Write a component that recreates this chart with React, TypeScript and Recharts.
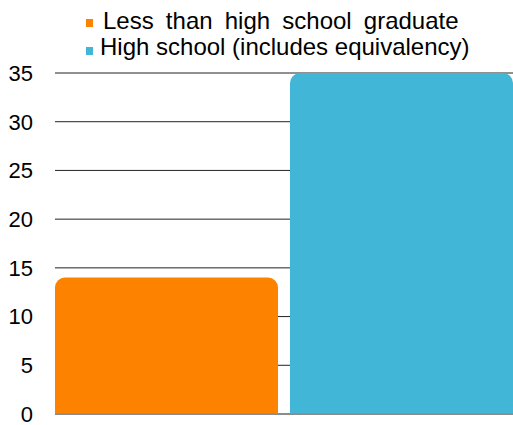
import React from 'react';
import { BarChart, Bar, XAxis, YAxis, CartesianGrid, Legend } from 'recharts';

const categories = ['Educational attainment'];
const lessThanHighSchool = [14];
const highSchool = [35];
const yTicks = [0, 5, 10, 15, 20, 25, 30, 35];
const seriesNames = ['Less than high school graduate', 'High school (includes equivalency)'];
const seriesColors = ['#FD8200', '#41B6D6'];

const data = categories.map((c, i) => ({
  name: c,
  less: lessThanHighSchool[i],
  hs: highSchool[i],
}));

const FONT = "'Liberation Sans', Arial, sans-serif";

const LegendContent = () => (
  <div style={{ position: 'relative', width: 513, height: 73, fontFamily: FONT, fontSize: 24, color: '#000' }}>
    <div style={{ position: 'absolute', left: 86, top: 19, width: 7, height: 8, background: seriesColors[0] }} />
    <div style={{ position: 'absolute', left: 103, top: 8, lineHeight: '26px', whiteSpace: 'nowrap', wordSpacing: 5.5 }}>
      {seriesNames[0]}
    </div>
    <div style={{ position: 'absolute', left: 86, top: 47, width: 7, height: 8, background: seriesColors[1] }} />
    <div style={{ position: 'absolute', left: 100, top: 34, lineHeight: '26px', whiteSpace: 'nowrap' }}>
      {seriesNames[1]}
    </div>
  </div>
);

export default function App() {
  return (
    <div style={{ position: 'absolute', left: 0, top: 0 }}>
      <BarChart
        width={513}
        height={425}
        data={data}
        margin={{ top: 0, right: 0, left: 0, bottom: 10 }}
        barCategoryGap={0}
        barGap={12}
      >
        <Legend verticalAlign="top" align="left" content={<LegendContent />} wrapperStyle={{ left: 0, top: 0 }} />
        <CartesianGrid vertical={false} stroke="#222" />
        <XAxis dataKey="name" tick={false} tickLine={false} height={1} axisLine={{ stroke: '#888' }} />
        <YAxis
          domain={[0, 35]}
          ticks={yTicks}
          interval={0}
          axisLine={false}
          tickLine={false}
          tickSize={0}
          tickMargin={22}
          width={55}
          tick={{ fill: '#000', fontSize: 22, fontFamily: FONT }}
        />
        <Bar dataKey="less" name={seriesNames[0]} fill={seriesColors[0]} radius={[10, 10, 0, 0]} isAnimationActive={false} />
        <Bar dataKey="hs" name={seriesNames[1]} fill={seriesColors[1]} radius={[10, 10, 0, 0]} isAnimationActive={false} />
      </BarChart>
    </div>
  );
}
